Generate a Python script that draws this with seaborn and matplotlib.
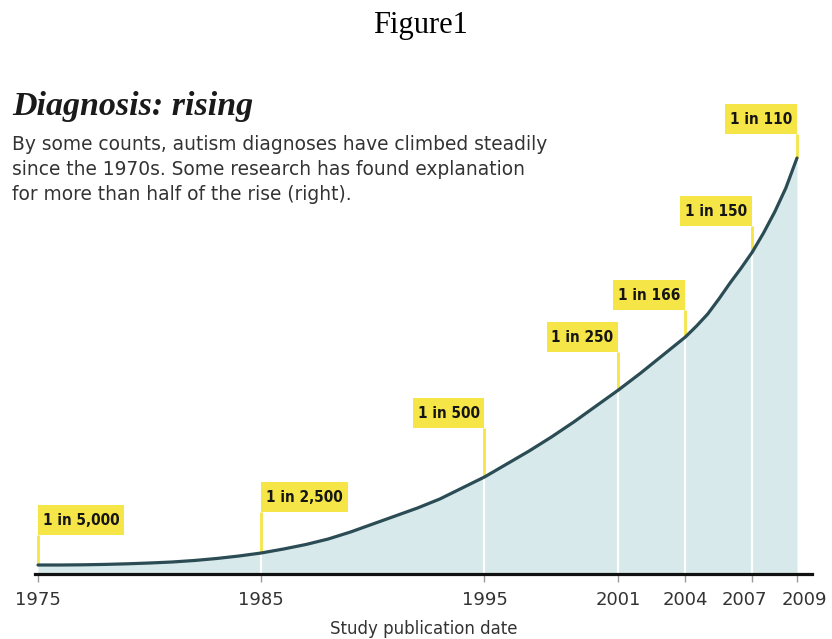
"""Diagnosis: rising - autism prevalence curve redrawn with seaborn."""

import pandas as pd
import seaborn as sns
import matplotlib.pyplot as plt
from matplotlib import font_manager
from matplotlib.transforms import ScaledTranslation

# curve height (arbitrary units, axis = 0)
curve_years = [1975, 1976, 1977, 1978, 1979, 1980, 1981, 1982, 1983, 1984,
               1985, 1986, 1987, 1988, 1989, 1990, 1991, 1992, 1993, 1994,
               1995, 1996, 1997, 1998, 1999, 2000, 2001, 2002, 2003, 2004,
               2004.5, 2005, 2005.5, 2006, 2006.5, 2007, 2007.5, 2008, 2008.5, 2009]
curve_level = [9, 9, 9.2, 9.6, 10.2, 11, 12, 13.5, 15.5, 18,
               21, 25, 29.5, 35, 42, 50, 58, 66, 75, 86,
               97, 110, 123, 137, 152, 168, 184, 201, 219, 237,
               248, 260, 275, 291, 306, 322, 341, 362, 386, 416]

study_years = [1975, 1985, 1995, 2001, 2004, 2007, 2009]
study_labels = ['1 in 5,000', '1 in 2,500', '1 in 500', '1 in 250',
                '1 in 166', '1 in 150', '1 in 110']

# layout of the yellow flags
flag_bottom = [39, 62, 146, 222, 264, 348, 440]
flag_side = ['left', 'left', 'right', 'right', 'right', 'right', 'right']

title = 'Diagnosis: rising'
subtitle = ['By some counts, autism diagnoses have climbed steadily',
            'since the 1970s. Some research has found explanation',
            'for more than half of the rise (right).']

LINE = '#2b4c54'
FILL = '#d7e9ea'
YELLOW = '#f5e546'
GREY = '#333333'

sns.set_theme(style='white')
plt.rcParams['font.family'] = ['DejaVu Sans']

# a narrow bold face for the flags, if one is installed
narrow = [f for f in font_manager.fontManager.ttflist
          if ('Condensed' in f.fname or 'Narrow' in f.fname)
          and f.weight in (700, 'bold') and 'Oblique' not in f.fname
          and 'Italic' not in f.fname]
if narrow:
    flag_prop = font_manager.FontProperties(fname=narrow[0].fname, size=11)
else:
    flag_prop = font_manager.FontProperties(family='Liberation Sans', weight='bold', size=11)
flag_pt = flag_prop.get_size_in_points()

df = pd.DataFrame({'year': curve_years, 'level': curve_level})
level_at = dict(zip(curve_years, curve_level))

fig = plt.figure(figsize=(8.32, 6.39), dpi=100)
ax = fig.add_axes([35 / 832, 65 / 639, 777 / 832, 480 / 639])

ax.fill_between(df['year'], 0, df['level'], color=FILL, lw=0, zorder=1)
inner = [y for y in study_years if y not in (1975, 2009)]
ax.vlines(inner, 0, [level_at[y] for y in inner], color='white', lw=1.6, zorder=2)

# flags with their stems (box taller than wide padding)
pad = 0.32
aspect = 1.5
pad_px = pad * flag_pt * 100 / 72
for yr, lab, bottom, side in zip(study_years, study_labels, flag_bottom, flag_side):
    ax.vlines(yr, level_at[yr], bottom, color=YELLOW, lw=2, zorder=3)
    dx = pad_px if side == 'left' else -pad_px
    ax.annotate(lab, xy=(yr, bottom), xytext=(dx, pad_px * aspect),
                textcoords='offset pixels', ha=side, va='bottom',
                fontproperties=flag_prop, color='#151515', zorder=5,
                bbox=dict(boxstyle=f'square,pad={pad}', fc=YELLOW, ec='none',
                          mutation_aspect=aspect))

sns.lineplot(data=df, x='year', y='level', color=LINE, lw=2.3, ax=ax, zorder=4)

ax.set_xlim(1975 - 3 / 22.32, 2009 + 15 / 22.32)
ax.set_ylim(0, 480)
ax.set_xticks(study_years)
ax.set_xticklabels([str(y) for y in study_years], fontsize=13, color=GREY)
ax.set_yticks([])
ax.tick_params(axis='x', direction='out', length=6, width=1, color='#999999', pad=6,
               bottom=True)
# last two year labels are pushed apart as in the original
shifts = {'2007': -6 / 72, '2009': 5 / 72}
for tl in ax.get_xticklabels():
    if tl.get_text() in shifts:
        tl.set_transform(tl.get_transform() +
                         ScaledTranslation(shifts[tl.get_text()], 0, fig.dpi_scale_trans))
for side in ['top', 'right', 'left']:
    ax.spines[side].set_visible(False)
ax.spines['bottom'].set_color('#111111')
ax.spines['bottom'].set_linewidth(2.3)
ax.set_xlabel('Study publication date', fontsize=12, color=GREY, labelpad=8)
ax.set_ylabel('')

fig.text(420 / 832, 1 - 33 / 639, 'Figure1', ha='center', va='baseline',
         fontsize=22, family='Liberation Serif', color='black')
fig.text(12 / 832, 1 - 115 / 639, title, ha='left', va='baseline', fontsize=24.5,
         family='Liberation Serif', fontweight='bold', fontstyle='italic', color='#1a1a1a')
for i, line in enumerate(subtitle):
    fig.text(12 / 832, 1 - (150 + 25 * i) / 639, line, ha='left', va='baseline',
             fontsize=13.4, color=GREY)

fig.savefig('out.png', dpi=100)
